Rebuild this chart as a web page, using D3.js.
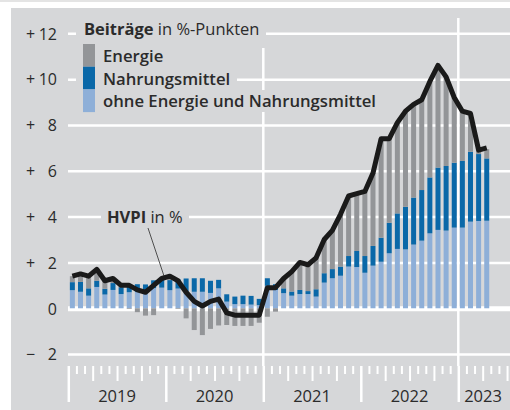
<!DOCTYPE html>
<html>
<head>
<meta charset="utf-8">
<script src="https://cdn.jsdelivr.net/npm/d3@7"></script>
<style>
  body { margin: 0; background: #fff; }
  text { font-family: "Open Sans", sans-serif; fill: #2b2b2b; }
</style>
</head>
<body>
<svg id="canvas"></svg>
<script>
// monthly values, Jan 2019 .. Apr 2023
let hvpi = [1.4,1.5,1.4,1.7,1.2,1.3,1.0,1.0,0.8,0.7,1.0,1.3,
            1.4,1.2,0.7,0.3,0.1,0.3,0.4,-0.2,-0.3,-0.3,-0.3,-0.3,
            0.9,0.9,1.3,1.6,2.0,1.9,2.2,3.0,3.4,4.1,4.9,5.0,
            5.1,5.9,7.4,7.4,8.1,8.6,8.9,9.1,9.9,10.6,10.1,9.2,
            8.6,8.5,6.9,7.0];
let kern = [0.79,0.72,0.55,0.93,0.6,0.8,0.62,0.7,0.72,0.76,0.88,0.9,
            0.79,0.86,0.75,0.72,0.72,0.67,0.87,0.29,0.18,0.18,0.16,0.14,
            0.98,0.8,0.66,0.55,0.62,0.62,0.51,1.12,1.31,1.42,1.82,1.8,
            1.55,1.86,2.03,2.4,2.59,2.57,2.78,2.95,3.27,3.42,3.39,3.52,
            3.52,3.78,3.81,3.82];
let nahrung = [0.35,0.43,0.32,0.27,0.25,0.3,0.3,0.33,0.33,0.28,0.34,0.38,
               0.44,0.41,0.55,0.59,0.59,0.53,0.37,0.32,0.33,0.37,0.38,0.27,
               0.33,0.25,0.21,0.18,0.18,0.13,0.32,0.41,0.4,0.4,0.46,0.7,
               0.73,0.86,1.05,1.33,1.55,1.86,2.05,2.21,2.44,2.72,2.82,2.83,
               2.91,3.05,2.92,2.72];
let energie = [0.26,0.35,0.51,0.5,0.35,0.15,0.08,-0.03,-0.17,-0.32,-0.3,0.02,
               0.19,-0.03,-0.44,-0.95,-1.17,-0.9,-0.75,-0.73,-0.77,-0.77,-0.77,-0.63,
               -0.37,-0.15,0.43,0.87,1.2,1.15,1.37,1.47,1.69,2.28,2.62,2.5,
               2.82,3.18,4.32,3.67,3.96,4.17,4.07,3.94,4.19,4.46,3.89,2.85,
               2.17,1.67,0.15,0.4];

let years = ["2019","2020","2021","2022","2023"];
let yTicks = [-2,0,2,4,6,8,10,12];
let legendItems = ["Energie","Nahrungsmittel","ohne Energie und Nahrungsmittel"];

let width = 510;
let height = 410;

let colors = {energie:"#939598", nahrung:"#0a68a8", kern:"#8eafd8"};
let panel = "#d6d7d9";

let canvas = d3.select("#canvas").attr("width", width).attr("height", height);

let xScale = d3.scaleLinear().domain([0, 48]).range([68.3, 458.3]);
let yScale = d3.scaleLinear().domain([-2, 12]).range([354.1, 33.3]);

let table = hvpi.map((v, i)=>({i:i, kern:kern[i], nahrung:nahrung[i], energie:energie[i]}));

let drawBackground=()=>{
    canvas.append("rect").attr("x",0).attr("y",0).attr("width",width).attr("height",2).attr("fill","#e4e4e4");
    canvas.append("rect").attr("x",11).attr("y",8).attr("width",width-11).attr("height",height-8).attr("fill",panel);

    let grid = d3.axisRight(yScale).tickValues(yTicks).tickSize(width - 68).tickFormat("");
    let g = canvas.append("g").attr("transform","translate(68,0)").call(grid);
    g.select(".domain").remove();
    g.selectAll("line")
     .attr("stroke","#fff")
     .attr("stroke-width", (d)=> d === 0 ? 5 : 2.5);

    // year separators 2021 and 2023
    canvas.selectAll(".sep")
          .data([24, 48])
          .enter()
          .append("line")
          .attr("class","sep")
          .attr("x1",(d)=>xScale(d)).attr("x2",(d)=>xScale(d))
          .attr("y1",18).attr("y2",366)
          .attr("stroke","#fff").attr("stroke-width",2.5);
}

let drawAxes=()=>{
    let yAxis = d3.axisLeft(yScale).tickValues(yTicks).tickSize(0).tickPadding(0)
                  .tickFormat((d)=> Math.abs(d));
    let ya = canvas.append("g").attr("transform","translate(57,0)").call(yAxis);
    ya.select(".domain").remove();
    ya.selectAll("text").style("font-size","16px").attr("fill","#2b2b2b").attr("dy","0.36em");
    ya.selectAll(".tick")
      .append("text")
      .attr("x",-31).attr("dy","0.36em")
      .attr("text-anchor","start")
      .style("font-size","16px")
      .attr("fill","#2b2b2b")
      .text((d)=> d > 0 ? "+" : (d < 0 ? "\u2212" : ""));

    let xAxis = d3.axisBottom(xScale).tickValues(d3.range(0, 55)).tickFormat("");
    let xa = canvas.append("g").attr("transform","translate(0,366)").call(xAxis);
    xa.select(".domain").remove();
    xa.selectAll("line")
      .attr("stroke","#fff")
      .attr("stroke-width",(d)=> d % 12 === 0 ? 2.5 : 2)
      .attr("y2",(d)=> d % 12 === 0 ? 36 : (d % 3 === 0 ? 15 : 8));

    canvas.selectAll(".year")
          .data(years)
          .enter()
          .append("text")
          .attr("class","year")
          .attr("x",(d, i)=> i < 4 ? xScale(i*12 + 6) : 483)
          .attr("y",402)
          .attr("text-anchor","middle")
          .style("font-size","16.5px")
          .text((d)=>d);
}

let drawBars=()=>{
    let stack = d3.stack().keys(["kern","nahrung","energie"]).offset(d3.stackOffsetDiverging);
    let series = stack(table);
    canvas.selectAll(".series")
          .data(series)
          .enter()
          .append("g")
          .attr("fill",(s)=>colors[s.key])
          .selectAll("rect")
          .data((s)=>s)
          .enter()
          .append("rect")
          .attr("x",(d)=>xScale(d.data.i + 0.5) - 2.5)
          .attr("width",5)
          .attr("y",(d)=>yScale(Math.max(d[0], d[1])))
          .attr("height",(d)=>Math.abs(yScale(d[0]) - yScale(d[1])));
}

let drawLine=()=>{
    let line = d3.line().x((d, i)=>xScale(i + 0.5)).y((d)=>yScale(d));
    canvas.append("path")
          .datum(hvpi)
          .attr("d", line)
          .attr("fill","none")
          .attr("stroke","#1a1a1a")
          .attr("stroke-width",5)
          .attr("stroke-linejoin","round");
}

let drawLegend=()=>{
    // masks over the grid behind the texts
    canvas.append("rect").attr("x",76).attr("y",18).attr("width",190).attr("height",30).attr("fill",panel);
    canvas.append("rect").attr("x",76).attr("y",68).attr("width",161).attr("height",22).attr("fill",panel);
    canvas.append("rect").attr("x",76).attr("y",90).attr("width",304).attr("height",22).attr("fill",panel);
    canvas.append("rect").attr("x",101).attr("y",207).attr("width",88).attr("height",20).attr("fill",panel);

    let title = canvas.append("text").attr("x",84).attr("y",35).style("font-size","16.5px");
    title.append("tspan").style("font-weight","700").text("Beiträge");
    title.append("tspan").text(" in %-Punkten");

    let keys = ["energie","nahrung","kern"];
    canvas.selectAll(".sw")
          .data(keys)
          .enter()
          .append("rect")
          .attr("x",83).attr("width",12)
          .attr("y",(d, i)=>44 + i*22.7)
          .attr("height",22.7)
          .attr("fill",(d)=>colors[d]);

    canvas.selectAll(".lg")
          .data(legendItems)
          .enter()
          .append("text")
          .attr("x",103)
          .attr("y",(d, i)=>62 + i*22.5)
          .style("font-size","16.7px")
          .style("font-weight","600")
          .text((d)=>d);

    let hv = canvas.append("text").attr("x",107).attr("y",223).style("font-size","16.5px");
    hv.append("tspan").style("font-weight","700").text("HVPI");
    hv.append("tspan").text(" in %");

    canvas.append("line")
          .attr("x1",148).attr("y1",228)
          .attr("x2",164).attr("y2",276)
          .attr("stroke","#2b2b2b").attr("stroke-width",0.8);
}

drawBackground();
drawAxes();
drawBars();
drawLine();
drawLegend();
</script>
</body>
</html>
